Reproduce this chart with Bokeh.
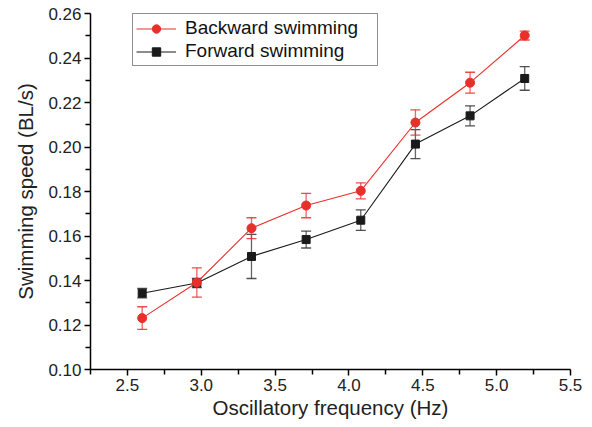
from bokeh.plotting import figure
from bokeh.models import (ColumnDataSource, Whisker, TeeHead, Legend, LegendItem,
                          Range1d, FixedTicker)
from bokeh.embed import file_html
from bokeh.resources import INLINE

freq = [2.60, 2.97, 3.34, 3.71, 4.08, 4.45, 4.82, 5.19]
backward = [0.1231, 0.1391, 0.1635, 0.1737, 0.1803, 0.2110, 0.2289, 0.2501]
backward_err = [0.0051, 0.0066, 0.0047, 0.0055, 0.0036, 0.0057, 0.0047, 0.0020]
forward = [0.1343, 0.1389, 0.1508, 0.1584, 0.1671, 0.2013, 0.2140, 0.2308]
forward_err = [0.0021, 0.0021, 0.0099, 0.0038, 0.0046, 0.0065, 0.0045, 0.0053]
x_ticks = [2.5, 3.0, 3.5, 4.0, 4.5, 5.0, 5.5]
y_ticks = [0.10, 0.12, 0.14, 0.16, 0.18, 0.20, 0.22, 0.24, 0.26]
labels = ["Backward swimming", "Forward swimming"]

RED = "#e8302a"
BLACK = "#1a1a1a"
FONT = "Liberation Sans"
PAD = "\u00a0" * 3

p = figure(width=584, height=421, output_backend="svg", toolbar_location=None,
           x_range=Range1d(2.25, 5.5), y_range=Range1d(0.10, 0.26),
           min_border_left=90, min_border_right=14, min_border_top=13, min_border_bottom=52)
p.outline_line_color = None
p.xgrid.visible = False
p.ygrid.visible = False

src_b = ColumnDataSource(dict(x=freq, y=backward,
                              lo=[v - e for v, e in zip(backward, backward_err)],
                              hi=[v + e for v, e in zip(backward, backward_err)]))
src_f = ColumnDataSource(dict(x=freq, y=forward,
                              lo=[v - e for v, e in zip(forward, forward_err)],
                              hi=[v + e for v, e in zip(forward, forward_err)]))

for src, col in ((src_f, "#333333"), (src_b, RED)):
    w = Whisker(source=src, base="x", upper="hi", lower="lo",
                line_color=col, line_alpha=0.75, line_width=1.3,
                upper_head=TeeHead(size=10, line_color=col, line_alpha=0.85, line_width=1.3),
                lower_head=TeeHead(size=10, line_color=col, line_alpha=0.85, line_width=1.3))
    p.add_layout(w)

lf = p.line("x", "y", source=src_f, line_color=BLACK, line_width=1.1)
sf = p.scatter("x", "y", source=src_f, marker="square", size=8, fill_color=BLACK, line_color=BLACK)
lb = p.line("x", "y", source=src_b, line_color=RED, line_width=1.1)
sb = p.scatter("x", "y", source=src_b, marker="circle", size=9, fill_color=RED, line_color=RED)

legend = Legend(items=[LegendItem(label=labels[0] + PAD, renderers=[lb, sb]),
                       LegendItem(label=labels[1] + PAD, renderers=[lf, sf])],
                location=(42, 303), border_line_color="#222222", border_line_width=1,
                label_text_font=FONT, label_text_font_size="19px", label_text_color="#111111",
                glyph_width=40, glyph_height=21, label_height=21, spacing=1,
                padding=3, margin=0, label_standoff=9, background_fill_alpha=1)
p.add_layout(legend)

p.xaxis.axis_line_color = "black"
p.yaxis.axis_line_color = "black"
p.xaxis.axis_line_width = 1.5
p.yaxis.axis_line_width = 1.5
p.xaxis.major_tick_line_color = "black"
p.yaxis.major_tick_line_color = "black"
p.xaxis.minor_tick_line_color = "black"
p.yaxis.minor_tick_line_color = "black"
p.xaxis.major_tick_line_width = 1.5
p.yaxis.major_tick_line_width = 1.5
p.xaxis.minor_tick_line_width = 1.5
p.yaxis.minor_tick_line_width = 1.5
p.xaxis.major_tick_in = 0
p.yaxis.major_tick_in = 0
p.xaxis.major_tick_out = 6
p.yaxis.major_tick_out = 6
p.xaxis.minor_tick_in = 0
p.yaxis.minor_tick_in = 0
p.xaxis.minor_tick_out = 5
p.yaxis.minor_tick_out = 5

for ax in (p.xaxis, p.yaxis):
    ax.major_label_text_font = FONT
    ax.major_label_text_font_size = "17px"
    ax.major_label_text_color = "#222222"
    ax.axis_label_text_font = FONT
    ax.axis_label_text_font_size = "20.5px"
    ax.axis_label_text_font_style = "normal"
    ax.axis_label_text_color = "#222222"

p.xaxis.ticker = FixedTicker(ticks=x_ticks, minor_ticks=[t + 0.25 for t in [2.0] + x_ticks])
p.yaxis.ticker = FixedTicker(ticks=y_ticks, minor_ticks=[round(t + 0.01, 2) for t in y_ticks[:-1]])
p.xaxis.major_label_overrides = {t: f"{t:.1f}" for t in x_ticks}
p.yaxis.major_label_overrides = {t: f"{t:.2f}" for t in y_ticks}
p.xaxis.axis_label = "Oscillatory frequency (Hz)"
p.yaxis.axis_label = "Swimming speed (BL/s)"
p.xaxis.axis_label_standoff = 2
p.yaxis.axis_label_standoff = 8
p.yaxis.major_label_standoff = 3
p.xaxis.major_label_standoff = 3

open("out.html", "w").write(file_html(p, INLINE))
